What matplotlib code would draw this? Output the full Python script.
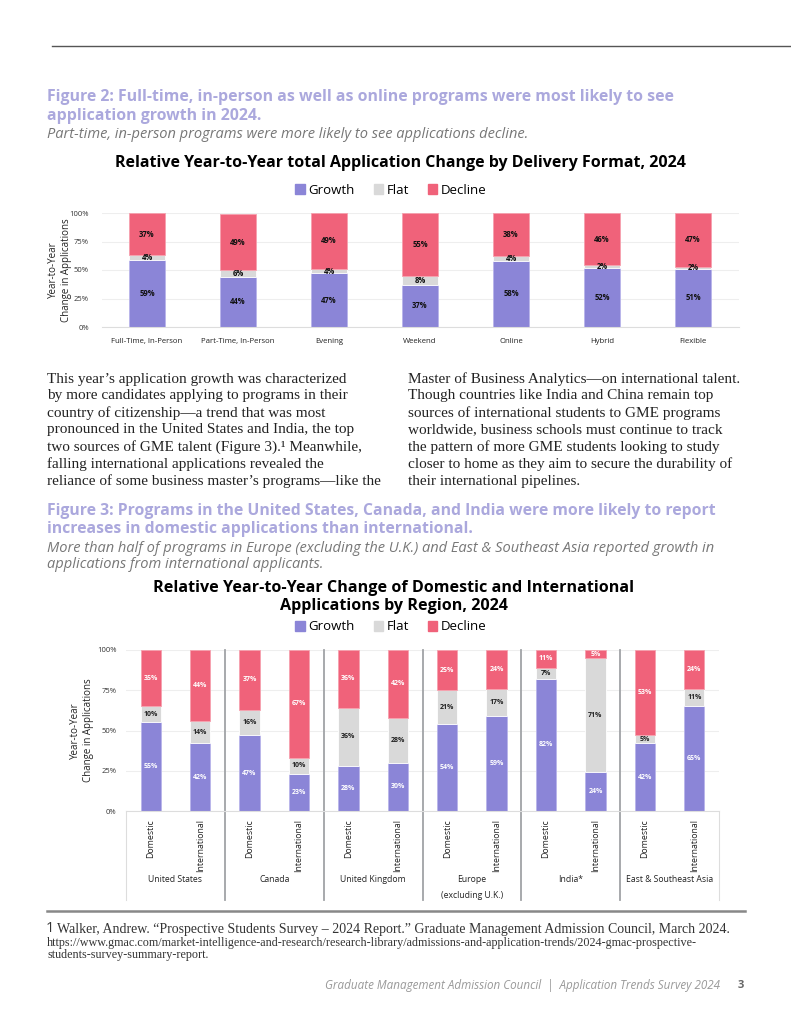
import matplotlib
matplotlib.use("Agg")
import matplotlib.pyplot as plt
from matplotlib.lines import Line2D
from matplotlib.patches import Patch

W, H = 791, 1024
SANS = ["Open Sans", "DejaVu Sans"]
SERIF = ["Liberation Serif", "DejaVu Serif"]
plt.rcParams.update({"font.family": SANS})

GROWTH_C, FLAT_C, DECLINE_C = "#8B85D7", "#D9D9D9", "#F0627A"
TITLE_C = "#ABA8DD"

# ---- Figure 2 data: delivery format
formats = ["Full-Time, In-Person", "Part-Time, In-Person", "Evening", "Weekend",
           "Online", "Hybrid", "Flexible"]
fmt_growth = [59, 44, 47, 37, 58, 52, 51]
fmt_flat = [4, 6, 4, 8, 4, 2, 2]
fmt_decline = [37, 49, 49, 55, 38, 46, 47]

# ---- Figure 3 data: region x domestic/international
regions = ["United States", "Canada", "United Kingdom", "Europe\n(excluding U.K.)",
           "India*", "East & Southeast Asia"]
origins = ["Domestic", "International"]
reg_growth = [55, 42, 47, 23, 28, 30, 54, 59, 82, 24, 42, 65]
reg_flat = [10, 14, 16, 10, 36, 28, 21, 17, 7, 71, 5, 11]
reg_decline = [35, 44, 37, 67, 36, 42, 25, 24, 11, 5, 53, 24]

yticks = [0, 25, 50, 75, 100]
ytick_labels = ["0%", "25%", "50%", "75%", "100%"]

para_left = [
    "This year\u2019s application growth was characterized",
    "by more candidates applying to programs in their",
    "country of citizenship\u2014a trend that was most",
    "pronounced in the United States and India, the top",
    "two sources of GME talent (Figure 3).\u00b9 Meanwhile,",
    "falling international applications revealed the",
    "reliance of some business master\u2019s programs\u2014like the",
]
para_right = [
    "Master of Business Analytics\u2014on international talent.",
    "Though countries like India and China remain top",
    "sources of international students to GME programs",
    "worldwide, business schools must continue to track",
    "the pattern of more GME students looking to study",
    "closer to home as they aim to secure the durability of",
    "their international pipelines.",
]

fig = plt.figure(figsize=(W / 100, H / 100), dpi=100)


def txt(x, y, s, **kw):
    return fig.text(x / W, 1 - y / H, s, **kw)


def box(l, t, r, b):
    return [l / W, 1 - b / H, (r - l) / W, (b - t) / H]


def hline(x0, x1, y, **kw):
    fig.add_artist(Line2D([x0 / W, x1 / W], [1 - y / H, 1 - y / H], **kw))


def style_axes(ax, n, pad):
    ax.set_ylim(0, 100)
    ax.set_xlim(-0.5, n - 0.5)
    ax.set_yticks(yticks)
    ax.set_yticklabels(ytick_labels, fontsize=5.5, color="#333333")
    ax.grid(axis="y", color="#EEEEEE", linewidth=0.8)
    ax.set_axisbelow(True)
    for s in ["top", "right", "left"]:
        ax.spines[s].set_visible(False)
    ax.spines["bottom"].set_color("#DDDDDD")
    ax.tick_params(length=0)
    ax.tick_params(axis="y", pad=pad)


# header rule
hline(52, 791, 46, color="#555555", lw=1)

# ---------------- Figure 2 ----------------
txt(47, 97, "Figure 2: Full-time, in-person as well as online programs were most likely to see",
    fontsize=11.4, fontweight="bold", color=TITLE_C, va="center")
txt(47, 116, "application growth in 2024.", fontsize=11.4, fontweight="bold",
    color=TITLE_C, va="center")
txt(47, 135, "Part-time, in-person programs were more likely to see applications decline.",
    fontsize=10.5, style="italic", color="#777777", va="center")
txt(400, 163, "Relative Year-to-Year total Application Change by Delivery Format, 2024",
    fontsize=11.5, fontweight="bold", color="black", ha="center", va="center")

ax1 = fig.add_axes(box(101.5, 213, 738.5, 327))
x1 = list(range(len(formats)))
b_g = ax1.bar(x1, fmt_growth, width=0.4, color=GROWTH_C, edgecolor="#B9B5EA", lw=0.6)
b_f = ax1.bar(x1, fmt_flat, width=0.4, bottom=fmt_growth, color=FLAT_C,
              edgecolor="white", lw=0.6)
bot = [g + f for g, f in zip(fmt_growth, fmt_flat)]
b_d = ax1.bar(x1, fmt_decline, width=0.4, bottom=bot, color=DECLINE_C,
              edgecolor="#F6A0AE", lw=0.6)
for cont, vals in [(b_g, fmt_growth), (b_f, fmt_flat), (b_d, fmt_decline)]:
    ax1.bar_label(cont, labels=[f"{v}%" for v in vals], label_type="center",
                  fontsize=5.5, fontweight="bold", color="#111111")
style_axes(ax1, len(formats), pad=9)
ax1.set_xticks(x1)
ax1.set_xticklabels(formats, fontsize=5.6, color="#222222")
ax1.tick_params(axis="x", pad=8)
ax1.set_ylabel("Year-to-Year\nChange in Applications", fontsize=7, color="#222222",
               linespacing=1.3)
ax1.yaxis.set_label_coords((72 - 101.5) / 637, 0.5)

handles = [Patch(color=GROWTH_C), Patch(color=FLAT_C), Patch(color=DECLINE_C)]
leg_names = ["Growth", "Flat", "Decline"]
fig.legend(handles, leg_names, loc="center", bbox_to_anchor=(391 / W, 1 - 190 / H),
           ncol=3, frameon=False, fontsize=9.5, handlelength=0.7, handleheight=0.7,
           handletextpad=0.3, columnspacing=1.4)

# ---------------- body text ----------------
for i, (l, r) in enumerate(zip(para_left, para_right)):
    y = 379 + i * 17
    txt(47, y, l, family=SERIF, fontsize=11, color="#222222", va="center")
    txt(408, y, r, family=SERIF, fontsize=11, color="#222222", va="center")

# ---------------- Figure 3 ----------------
txt(47, 511, "Figure 3: Programs in the United States, Canada, and India were more likely to report",
    fontsize=11.3, fontweight="bold", color=TITLE_C, va="center")
txt(47, 529, "increases in domestic applications than international.", fontsize=11.3,
    fontweight="bold", color=TITLE_C, va="center")
txt(47, 549, "More than half of programs in Europe (excluding the U.K.) and East & Southeast Asia reported growth in",
    fontsize=10.5, style="italic", color="#777777", va="center")
txt(47, 564, "applications from international applicants.", fontsize=10.5, style="italic",
    color="#777777", va="center")
txt(394, 597, "Relative Year-to-Year Change of Domestic and International\nApplications by Region, 2024",
    fontsize=11.6, fontweight="bold", color="black", ha="center", va="center",
    linespacing=1.25)
fig.legend(handles, leg_names, loc="center", bbox_to_anchor=(391 / W, 1 - 627 / H),
           ncol=3, frameon=False, fontsize=9.5, handlelength=0.7, handleheight=0.7,
           handletextpad=0.3, columnspacing=1.4)

ax2 = fig.add_axes(box(126, 650, 719, 811))
n2 = len(reg_growth)
x2 = list(range(n2))
c_g = ax2.bar(x2, reg_growth, width=0.41, color=GROWTH_C, edgecolor="#B9B5EA", lw=0.6)
c_f = ax2.bar(x2, reg_flat, width=0.41, bottom=reg_growth, color=FLAT_C,
              edgecolor="white", lw=0.6)
bot2 = [g + f for g, f in zip(reg_growth, reg_flat)]
c_d = ax2.bar(x2, reg_decline, width=0.41, bottom=bot2, color=DECLINE_C,
              edgecolor="#F6A0AE", lw=0.6)
for cont, vals, col in [(c_g, reg_growth, "white"), (c_f, reg_flat, "#222222"),
                        (c_d, reg_decline, "white")]:
    ax2.bar_label(cont, labels=[f"{v}%" for v in vals], label_type="center",
                  fontsize=5, fontweight="bold", color=col)
style_axes(ax2, n2, pad=7)
ax2.set_xticks(x2)
ax2.set_xticklabels(origins * len(regions), rotation=90, fontsize=6.3, color="#222222")
ax2.tick_params(axis="x", pad=6)
ax2.set_ylabel("Year-to-Year\nChange in Applications", fontsize=7, color="#222222",
               linespacing=1.3)
ax2.yaxis.set_label_coords((94 - 126) / 593, 0.5)

low = -(900 - 811) / (811 - 650)
tr = ax2.get_xaxis_transform()
for k in range(1, len(regions)):
    xb = 2 * k - 0.5
    ax2.plot([xb, xb], [1, low], transform=tr, color="#A0A3A6", lw=1.3, clip_on=False)
for xb in [-0.5, n2 - 0.5]:
    ax2.plot([xb, xb], [0, low], transform=tr, color="#DDDDDD", lw=0.8, clip_on=False)
for k, name in enumerate(regions):
    ax2.text(2 * k + 0.5, -(875 - 811) / (811 - 650), name, transform=tr, ha="center",
             va="top", fontsize=6.2, color="#222222", linespacing=2.0)

# ---------------- footnote ----------------
hline(47, 745, 911, color="#888888", lw=1.8)
txt(46, 928, "1", fontsize=10.5, color="#333333", va="center")
txt(57, 929, "Walker, Andrew. \u201cProspective Students Survey \u2013 2024 Report.\u201d Graduate Management Admission Council, March 2024.",
    family=SERIF, fontsize=10, color="#333333", va="center")
txt(47, 943, "https://www.gmac.com/market-intelligence-and-research/research-library/admissions-and-application-trends/2024-gmac-prospective-",
    family=SERIF, fontsize=8.7, color="#333333", va="center")
txt(47, 955, "students-survey-summary-report.", family=SERIF, fontsize=8.7,
    color="#333333", va="center")
txt(720, 985, "Graduate Management Admission Council  |  Application Trends Survey 2024",
    fontsize=8.4, style="italic", color="#999999", ha="right", va="center")
txt(741, 985, "3", fontsize=8, fontweight="bold", color="#666666", ha="center",
    va="center")

fig.savefig("out.png", dpi=100)
